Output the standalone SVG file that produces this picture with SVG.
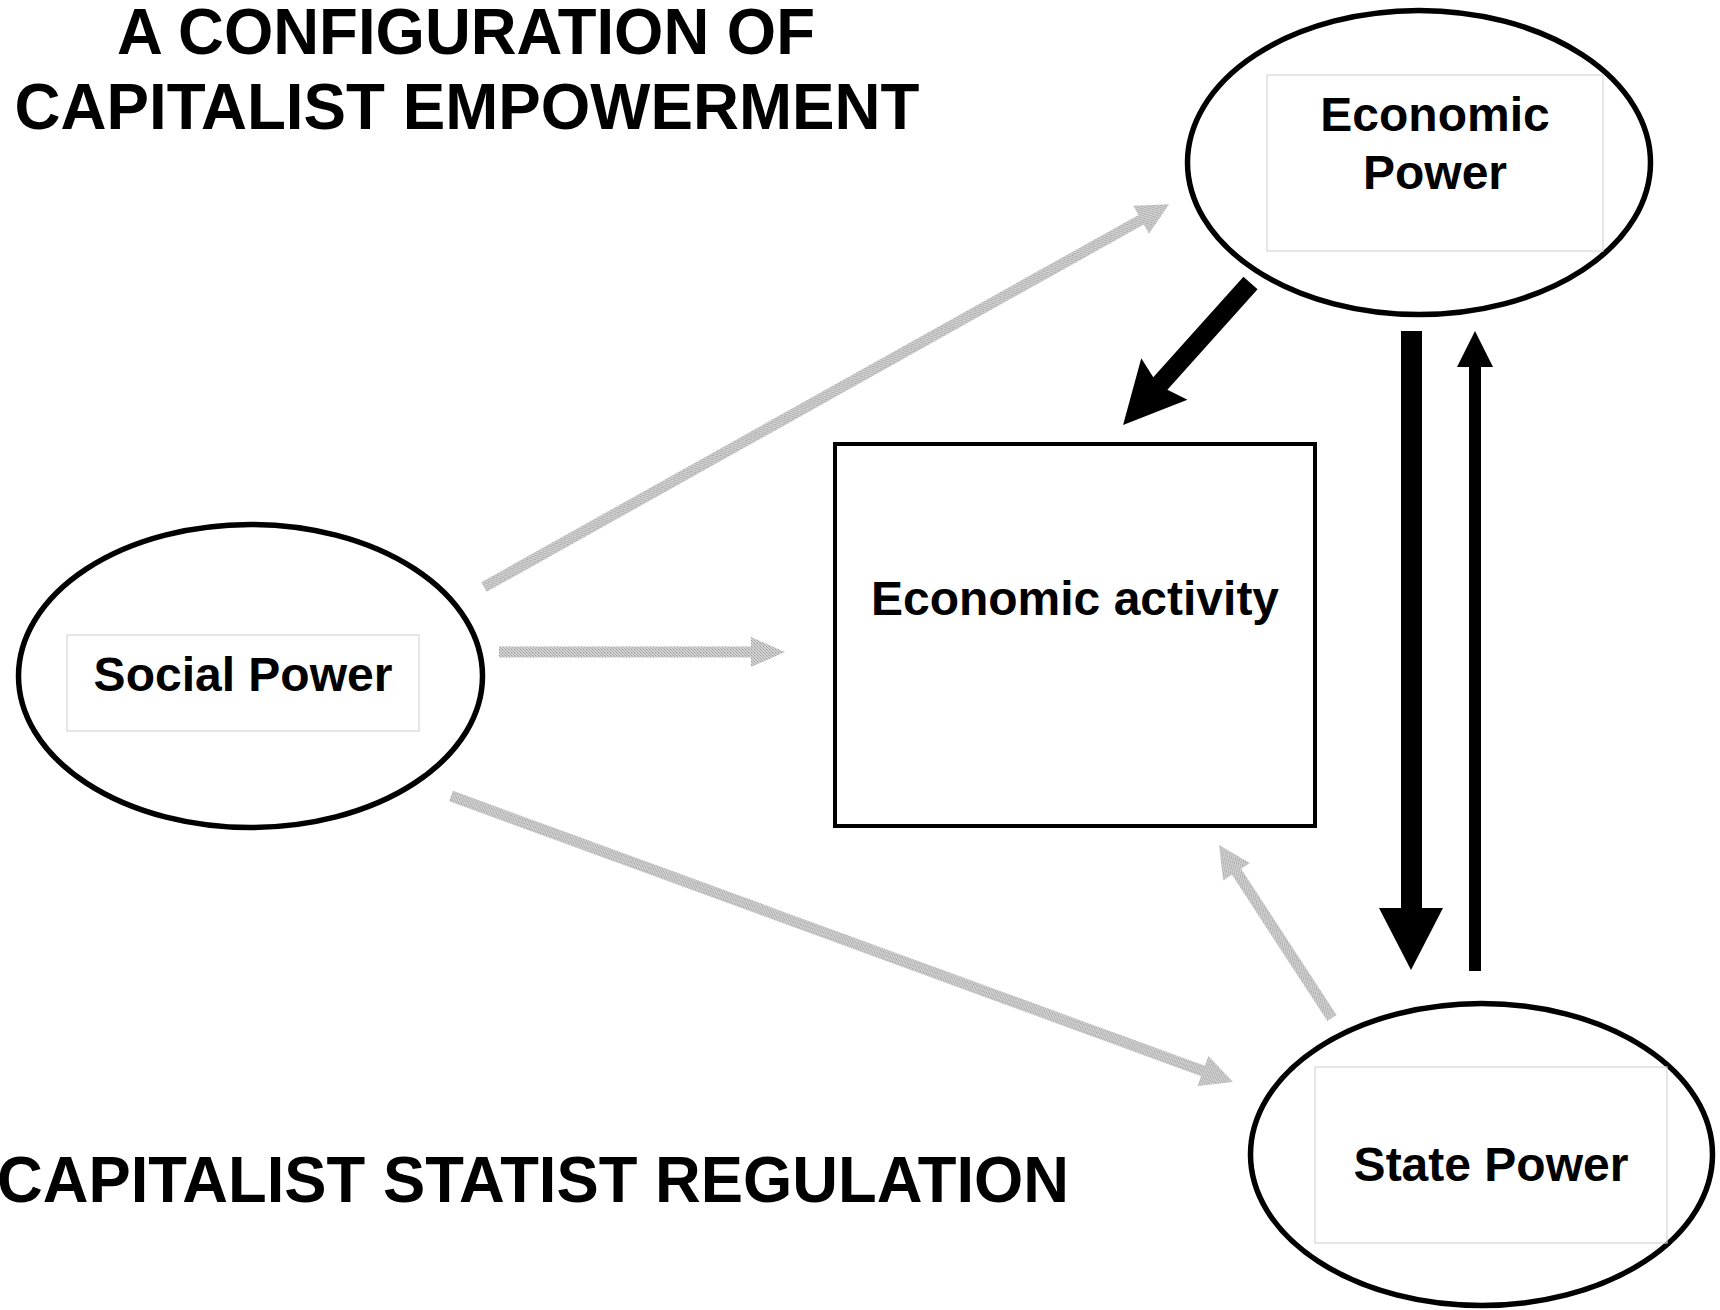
<svg xmlns="http://www.w3.org/2000/svg" width="1720" height="1310" viewBox="0 0 1720 1310">
<style>
.title{font-family:"Liberation Sans",Arial,sans-serif;font-weight:bold;font-size:64px;fill:#000}
.lbl{font-family:"Liberation Sans",Arial,sans-serif;font-weight:bold;font-size:48px;fill:#000;text-anchor:middle}
.ell{fill:#fff;stroke:#000;stroke-width:5.5}
.inner{fill:none;stroke:#d6d6d6;stroke-width:1.2}
.box{fill:#fff;stroke:#000;stroke-width:4}
.garrow{fill:url(#dots)}
.barrow{fill:#000}
</style>
<defs>
<pattern id="dots" width="3" height="3" patternUnits="userSpaceOnUse">
<rect width="3" height="3" fill="#d2d2d2"/>
<rect x="0" y="0" width="1" height="1" fill="#999"/>
<rect x="1" y="1" width="1" height="1" fill="#adadad"/>
<rect x="2" y="2" width="1" height="1" fill="#adadad"/>
</pattern>
</defs>
<rect width="1720" height="1310" fill="#fff"/>

<g id="titles">
<text class="title" x="466" y="54" text-anchor="middle" textLength="698" lengthAdjust="spacingAndGlyphs">A CONFIGURATION OF</text>
<text class="title" x="467" y="129" text-anchor="middle" textLength="905" lengthAdjust="spacingAndGlyphs">CAPITALIST EMPOWERMENT</text>
<text class="title" x="-3" y="1202" textLength="1072" lengthAdjust="spacingAndGlyphs">CAPITALIST STATIST REGULATION</text>
</g>

<g id="node-economic-power">
<ellipse class="ell" cx="1419" cy="162.5" rx="231.5" ry="152"/>
<rect class="inner" x="1267" y="75" width="336" height="176"/>
<text class="lbl" x="1435" y="131">Economic</text>
<text class="lbl" x="1435" y="189">Power</text>
</g>

<g id="node-social-power">
<ellipse class="ell" cx="250.5" cy="676" rx="232" ry="151.5"/>
<rect class="inner" x="67" y="635" width="352" height="96"/>
<text class="lbl" x="243" y="691">Social Power</text>
</g>

<g id="node-state-power">
<ellipse class="ell" cx="1481.5" cy="1154.5" rx="231" ry="151"/>
<rect class="inner" x="1315" y="1067" width="352" height="176"/>
<text class="lbl" x="1491" y="1181">State Power</text>
</g>

<g id="node-economic-activity">
<rect class="box" x="835" y="444" width="480" height="382"/>
<text class="lbl" x="1075" y="615">Economic activity</text>
</g>

<g id="connectors">
<polygon class="garrow" transform="translate(484,587) rotate(-29.2)" points="0,-5.5 752.8,-5.5 752.8,-16 784.8,0 752.8,16 752.8,5.5 0,5.5"/>
<polygon class="garrow" transform="translate(499,652)" points="0,-5.5 252,-5.5 252,-15 286,0 252,15 252,5.5 0,5.5"/>
<polygon class="garrow" transform="translate(451,796) rotate(20.09)" points="0,-5.5 800.7,-5.5 800.7,-16 832.7,0 800.7,16 800.7,5.5 0,5.5"/>
<polygon class="garrow" transform="translate(1332,1018) rotate(-123.15)" points="0,-5.5 174.6,-5.5 174.6,-16 206.6,0 174.6,16 174.6,5.5 0,5.5"/>
<polygon class="barrow" transform="translate(1250.5,283) rotate(131.9)" points="0,-9.5 135,-9.5 129,-31 190.8,0 129,31 135,9.5 0,9.5"/>
<polygon class="barrow" points="1401,331 1422,331 1422,908 1443,908 1411,970 1379,908 1401,908"/>
<polygon class="barrow" points="1469,971 1481,971 1481,367 1493,367 1475,331 1457,367 1469,367"/>
</g>
</svg>
